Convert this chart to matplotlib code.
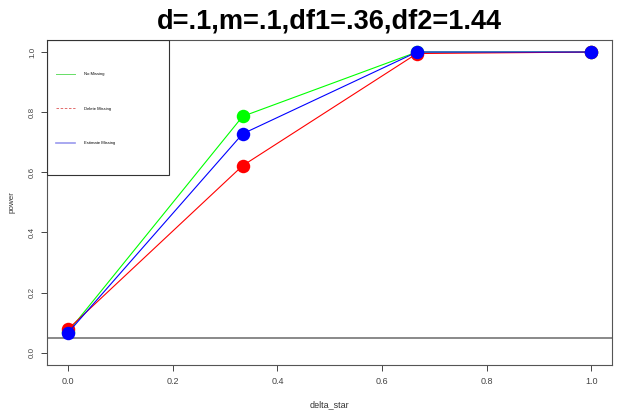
import matplotlib
matplotlib.use("Agg")
import matplotlib.pyplot as plt
from matplotlib.patches import Rectangle
from matplotlib.lines import Line2D

plt.rcParams['font.family'] = ['Liberation Sans', 'DejaVu Sans']

delta_star = [0.0, 1/3, 2/3, 1.0]
no_missing = [0.070, 0.786, 1.000, 1.000]
delete_missing = [0.079, 0.622, 0.995, 1.000]
estimate_missing = [0.067, 0.728, 1.000, 1.000]
alpha_level = 0.05
legend_labels = ["No Missing", "Delete Missing", "Estimate Missing"]
title = "d=.1,m=.1,df1=.36,df2=1.44"
yticks = [0.0, 0.2, 0.4, 0.6, 0.8, 1.0]
xticks = [0.0, 0.2, 0.4, 0.6, 0.8, 1.0]

fig = plt.figure(figsize=(6.37, 4.15), dpi=100)
ax = fig.add_axes([0.0743, 0.1212, 0.9612 - 0.0743, 0.9036 - 0.1212])

ms = 9.7
ax.plot(delta_star, no_missing, color='#00ff00', lw=0.8, marker='o', ms=ms, mec='none', zorder=3)
ax.plot(delta_star, delete_missing, color='#ff0000', lw=0.8, marker='o', ms=ms, mec='none', zorder=4)
ax.plot(delta_star, estimate_missing, color='#0000ff', lw=0.8, marker='o', ms=ms, mec='none', zorder=5)
ax.axhline(alpha_level, color='#808080', lw=1.3, zorder=2)

ax.set_xlim(-0.04, 1.04)
ax.set_ylim(-0.04, 1.04)
ax.set_xticks(xticks)
ax.set_yticks(yticks)
ax.set_xticklabels([f"{v:.1f}" for v in xticks], fontsize=6.5)
ax.set_yticklabels([f"{v:.1f}" for v in yticks], rotation=90, va='center', fontsize=5.8)
ax.tick_params(axis='both', length=4, width=0.7, colors='#444444', pad=4)
ax.tick_params(axis='x', pad=5)
for s in ax.spines.values():
    s.set_color('#555555')
    s.set_linewidth(0.8)

ax.set_xlabel("delta_star", fontsize=6.5, color='#333333', labelpad=10)
ax.set_ylabel("power", fontsize=5.8, color='#333333', labelpad=10)
fig.text(0.5165, 1 - 28.7 / 415, title, ha='center', va='baseline', fontsize=19.5, fontweight='bold')

# legend frame
ax.add_patch(Rectangle((0, 0.583), 0.215, 0.417, transform=ax.transAxes,
                       fill=False, edgecolor='#333333', lw=0.8, zorder=6))
handles = [
    Line2D([], [], color='#66dd66', lw=0.7, ls='-'),
    Line2D([], [], color='#dd5555', lw=0.6, ls=(0, (3, 2))),
    Line2D([], [], color='#9999ee', lw=1.2, ls='-'),
]
ax.legend(handles, legend_labels, loc='upper left', bbox_to_anchor=(0.0148, 0.90),
          frameon=False, fontsize=3, borderpad=0, borderaxespad=0,
          handlelength=4.6, handletextpad=2.2, labelspacing=7.3)

fig.savefig("out.png", dpi=100)
